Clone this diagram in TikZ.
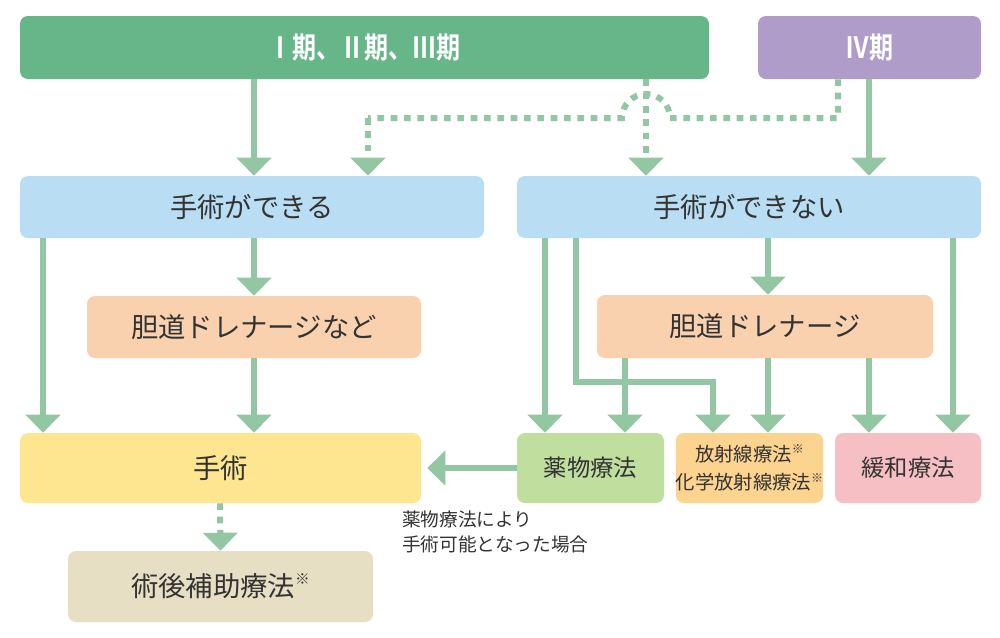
\documentclass[tikz,border=0pt]{standalone}
\usepackage{fontspec}
\newfontfamily\jp{Noto Sans CJK JP}
\newfontfamily\jpb{Noto Sans CJK JP Bold}
\usetikzlibrary{arrows.meta}
\definecolor{cgreen}{HTML}{67B68A}
\definecolor{cpurple}{HTML}{AF9CC8}
\definecolor{cblue}{HTML}{B9DDF3}
\definecolor{cpeach}{HTML}{FAD1AE}
\definecolor{cyellow}{HTML}{FDE68F}
\definecolor{cleaf}{HTML}{C0DE9E}
\definecolor{corange}{HTML}{FCD38F}
\definecolor{cpink}{HTML}{F6BFC3}
\definecolor{cbeige}{HTML}{E6DFC3}
\definecolor{carrow}{HTML}{93C6A2}
\definecolor{ctext}{HTML}{333333}
\newcommand{\kome}{\raisebox{0.75ex}{\fontsize{9}{9}\selectfont ※}}
\newcommand{\komeb}{\raisebox{0.8ex}{\fontsize{11}{11}\selectfont ※}}
\begin{document}
\begin{tikzpicture}[x=0.75pt,y=-0.75pt,
  bx/.style 2 args={rounded corners=6pt, inner sep=0pt, minimum width=#1*0.75pt, minimum height=#2*0.75pt, text=ctext, font=\jp\fontsize{20.5}{22}\selectfont},
  arr/.style={draw=carrow, line width=4.5pt, -{Triangle[width=25.5pt,length=13.5pt]}},
  darr/.style={arr, dash pattern=on 5pt off 5pt},
  dline/.style={draw=carrow, line width=4.5pt, dash pattern=on 5pt off 5pt}]
\useasboundingbox (0,0) rectangle (1000,637);
% nodes
\node[bx={689}{63}, fill=cgreen, text=white, font=\jpb\fontsize{22}{24}\selectfont] (g) at (364.5,47.5) {\scalebox{0.82}[1]{Ⅰ期、Ⅱ期、Ⅲ期}};
\node[bx={223}{63}, fill=cpurple, text=white, font=\jpb\fontsize{22}{24}\selectfont] (p) at (869.5,47.5) {\scalebox{0.82}[1]{Ⅳ期}};
\node[bx={464}{62}, fill=cblue] (sL) at (252,207) {手術ができる};
\node[bx={464}{62}, fill=cblue] (sR) at (749,207) {手術ができない};
\node[bx={334}{62}, fill=cpeach] (pL) at (254,327) {胆道ドレナージなど};
\node[bx={336}{63}, fill=cpeach] (pR) at (765,326.5) {胆道ドレナージ};
\node[bx={401}{70}, fill=cyellow] (sj) at (220.5,468) {手術};
\node[bx={147}{70}, fill=cleaf, font=\jp\fontsize{17.5}{22}\selectfont] (yk) at (590.5,468) {薬物療法};
\node[bx={147}{70}, fill=corange, align=center, font=\jp\fontsize{14.5}{21.5}\selectfont] (hs) at (749.5,468) {放射線療法\kome\\化学放射線療法\kome};
\node[bx={146}{70}, fill=cpink, font=\jp\fontsize{17.5}{22}\selectfont] (kw) at (908,468) {緩和療法};
\node[bx={305}{71}, fill=cbeige] (jg) at (220.5,586.5) {術後補助療法\komeb};
\node[anchor=north west, inner sep=0pt, align=left, text=ctext, font=\jp\fontsize{14}{18.75}\selectfont] (lbl) at (402,511) {薬物療法により\\手術可能となった場合};
% x guides
\foreach \x in {43,220,254,368,545,576,625,646,713,768,838,869,953}{\coordinate (c\x) at (\x,0);}
\coordinate (bend) at (713,382);
\coordinate (hopR) at (670,118);
\coordinate (hopL) at (368,118);
% connectors
\draw[arr] (g.south -| c254) -- (sL.north -| c254);
\draw[arr] (p.south -| c869) -- (sR.north -| c869);
\draw[darr] (g.south -| c646) -- (sR.north -| c646);
\draw[dline] (p.south -| c838) |- (hopR) arc[start angle=0, end angle=-180, radius=24] -- (hopL);
\draw[darr] (hopL) -- (sL.north -| c368);
\draw[arr] (sL.south -| c43) -- (sj.north -| c43);
\draw[arr] (sL.south -| c254) -- (pL.north -| c254);
\draw[arr] (pL.south -| c254) -- (sj.north -| c254);
\draw[arr] (sR.south -| c545) -- (yk.north -| c545);
\draw[arr] (sR.south -| c576) |- (bend) -- (hs.north -| bend);
\draw[arr] (sR.south -| c768) -- (pR.north -| c768);
\draw[arr] (sR.south -| c953) -- (kw.north -| c953);
\draw[arr] (pR.south -| c625) -- (yk.north -| c625);
\draw[arr] (pR.south -| c768) -- (hs.north -| c768);
\draw[arr] (pR.south -| c869) -- (kw.north -| c869);
\draw[arr, shorten >=4.5pt] (yk.west) -- (sj.east);
\draw[darr] (sj.south -| c220) -- (jg.north);
\end{tikzpicture}
\end{document}
